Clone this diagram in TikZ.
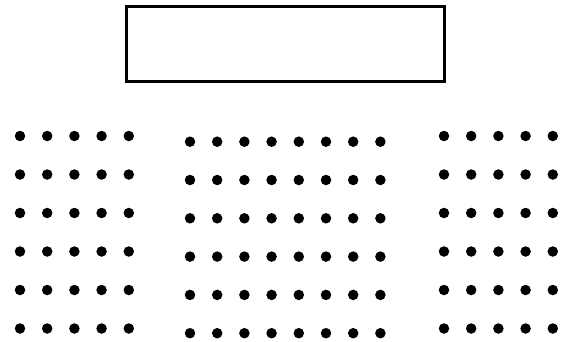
\documentclass[tikz,border=0pt]{standalone}
\begin{document}
\begin{tikzpicture}[x=1pt,y=-1pt,
  dotmark/.style={circle,fill=black,inner sep=0pt,minimum size=10.5pt},
  frame/.style={draw=black,line width=3pt,inner sep=0pt}]
\useasboundingbox (0,0) rectangle (571,341);
\node[frame,minimum width=318pt,minimum height=75pt] (box) at (285.5,43.5) {};
% left block
\foreach \i/\x in {1/20,2/47.2,3/74.4,4/101.6,5/128.8}
  \foreach \j/\y in {1/136,2/174.5,3/213,4/251.5,5/290,6/328.5}
    \node[dotmark] (l\i-\j) at (\x,\y) {};
% middle block
\foreach \i/\x in {1/190,2/217.2,3/244.4,4/271.6,5/298.8,6/326,7/353.2,8/380.4}
  \foreach \j/\y in {1/141.7,2/180,3/218.3,4/256.6,5/294.9,6/333.2}
    \node[dotmark] (m\i-\j) at (\x,\y) {};
% right block
\foreach \i/\x in {1/444,2/471.2,3/498.4,4/525.6,5/552.8}
  \foreach \j/\y in {1/136,2/174.5,3/213,4/251.5,5/290,6/328.5}
    \node[dotmark] (r\i-\j) at (\x,\y) {};
\end{tikzpicture}
\end{document}
